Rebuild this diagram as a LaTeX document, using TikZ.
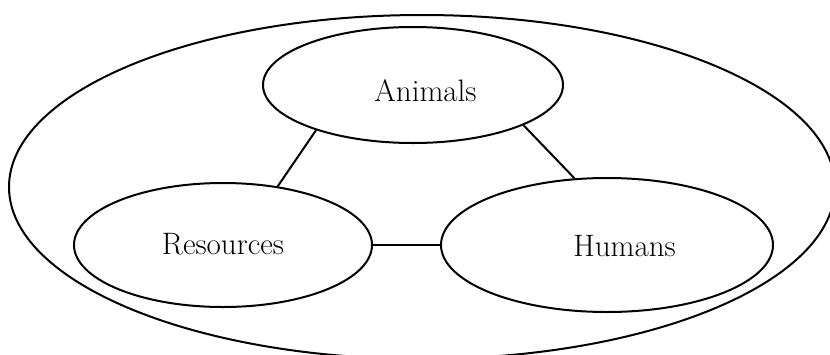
\documentclass[tikz,border=0pt]{standalone}
\usetikzlibrary{shapes.geometric}
\tikzset{
	blob/.style={draw=black, ellipse, line width=2pt, inner sep=0pt},
	link/.style={draw=black, line width=2pt},
	word/.style={font=\fontsize{31}{37}\selectfont}
}

\begin{document}
\begin{tikzpicture}[x=1pt, y=-1pt]
	\useasboundingbox (0, 0) rectangle (830, 354);
	% --- outer ring ---
	\node[blob, minimum width=826, minimum height=344] (world) at (422, 187) {};

	% --- three parts ---
	\node[blob, minimum width=300, minimum height=116,
		label={[word, xshift=12.5pt, yshift=-5.5pt]center:Animals}] (animals) at (413, 85) {};
	\node[blob, minimum width=298, minimum height=124,
		label={[word, yshift=1pt]center:Resources}] (resources) at (223, 245) {};
	\node[blob, minimum width=332, minimum height=134,
		label={[word, xshift=17.5pt, yshift=-1pt]center:Humans}] (humans) at (607, 245) {};

	\draw[link] (animals.205) -- (resources.47);
	\draw[link] (animals.340) -- (humans.116);
	\draw[link] (resources.east) -- (humans.west);
\end{tikzpicture}
\end{document}
